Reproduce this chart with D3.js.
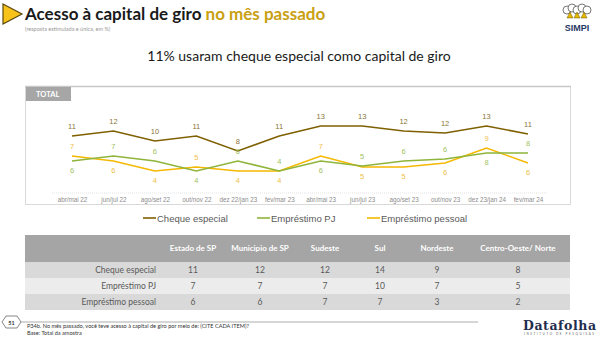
<!DOCTYPE html>
<html>
<head>
<meta charset="utf-8">
<script src="https://cdn.jsdelivr.net/npm/d3@7"></script>
<style>
  body { margin: 0; background: #fff; }
  svg { display: block; font-family: Lato, "Liberation Sans", sans-serif; }
</style>
</head>
<body>
<div id="container"></div>
<script>
// data we work with
let periods = ["abr/mai 22", "jun/jul 22", "ago/set 22", "out/nov 22", "dez 22/jan 23", "fev/mar 23",
  "abr/mai 23", "jun/jul 23", "ago/set 23", "out/nov 23", "dez 23/jan 24", "fev/mar 24"];
let cheque = [11, 12, 10, 11, 8, 11, 13, 13, 12, 11.6, 13, 11.4];
let empPJ = [6, 7, 6, 4, 6, 4, 6, 5, 6, 6.4, 7.6, 7.6];
let empPessoal = [7, 6, 4, 4.8, 4, 4, 7, 4.8, 4.8, 5.6, 8.6, 5.6];
let seriesNames = ["Cheque especial", "Empréstimo PJ", "Empréstimo pessoal"];

let regions = ["Estado de  SP", "Municipio de SP", "Sudeste", "Sul", "Nordeste", "Centro-Oeste/ Norte"];
let tabCheque = [11, 12, 12, 14, 9, 8];
let tabPJ = [7, 7, 7, 10, 7, 5];
let tabPessoal = [6, 6, 7, 7, 3, 2];

let w = 600;
let h = 338;
let colors = ["#7f6000", "#8fb43a", "#f5b800"];
let labelColors = ["#8a7535", "#a3c262", "#f0c04a"];

let viz = d3.select("#container")
  .append("svg")
    .attr("width", w)
    .attr("height", h)
;

// ---- header
viz.append("path")
  .attr("d", "M3,4 L22,14 L3,24 Z")
  .attr("fill", "#f7c21a")
  .attr("stroke", "#5a4a10")
  .attr("stroke-width", 1.2);

let title = viz.append("text")
  .attr("x", 25).attr("y", 20)
  .attr("font-size", 17).attr("font-weight", "bold");
title.append("tspan").attr("fill", "#1a1a1a").text("Acesso à capital de giro ");
title.append("tspan").attr("fill", "#c9a012").text("no mês passado");

viz.append("text")
  .attr("x", 25).attr("y", 31)
  .attr("font-size", 5.5).attr("fill", "#999")
  .text("(resposta estimulada e única, em %)");

// SIMPI logo
let logo = viz.append("g").attr("transform", "translate(577,14)");
[-10, -5, 0, 5, 10].forEach(function(dx, i){
  logo.append("circle")
    .attr("cx", dx).attr("cy", i % 2 ? -6 : -4).attr("r", 4)
    .attr("fill", "#fff").attr("stroke", "#555").attr("stroke-width", 0.8);
});
[-7, 0, 7].forEach(function(dx){
  logo.append("path")
    .attr("d", "M" + (dx - 3) + ",4 L" + dx + ",-2 L" + (dx + 3) + ",4 Z")
    .attr("fill", "#e6b800").attr("stroke", "#6b5a00").attr("stroke-width", 0.5);
});
logo.append("text")
  .attr("y", 17).attr("text-anchor", "middle")
  .attr("font-family", "Liberation Sans").attr("font-weight", "bold")
  .attr("font-size", 9).attr("fill", "#1f3864")
  .text("SIMPI");

viz.append("text")
  .attr("x", 299).attr("y", 61)
  .attr("text-anchor", "middle")
  .attr("font-size", 14).attr("fill", "#1a1a1a")
  .text("11% usaram cheque especial como capital de giro");

// ---- chart box
viz.append("rect")
  .attr("x", 25.5).attr("y", 86.5)
  .attr("width", 545).attr("height", 118)
  .attr("fill", "none").attr("stroke", "#d9d9d9");
viz.append("line")
  .attr("x1", 25).attr("x2", 571).attr("y1", 86.5).attr("y2", 86.5)
  .attr("stroke", "#c8c8c8").attr("stroke-width", 1.5);
viz.append("rect")
  .attr("x", 26).attr("y", 87)
  .attr("width", 45).attr("height", 14)
  .attr("fill", "#a6a6a6");
viz.append("text")
  .attr("x", 36).attr("y", 97)
  .attr("font-size", 7.5).attr("font-weight", "bold").attr("fill", "#fff")
  .text("TOTAL");

let x = d3.scalePoint().domain(periods).range([72, 528]);
let y = d3.scaleLinear().domain([0, 13]).range([191, 126]);

viz.append("line")
  .attr("x1", 52).attr("x2", 548).attr("y1", 193).attr("y2", 193)
  .attr("stroke", "#e3e3e3").attr("stroke-dasharray", "1,1");

let xAxis = viz.append("g")
  .attr("transform", "translate(0,193)")
  .call(d3.axisBottom(x).tickSize(0).tickPadding(5));
xAxis.select(".domain").remove();
xAxis.selectAll("text")
  .attr("font-size", 6.3)
  .attr("fill", "#8c8c8c")
  .attr("font-family", "Liberation Sans");

let allSeries = [cheque, empPJ, empPessoal];

let lineMaker = d3.line()
  .x(function(d, i){ return x(periods[i]); })
  .y(function(d){ return y(d); });

// draw in order pessoal, PJ, cheque
[2, 1, 0].forEach(function(s){
  viz.append("path")
    .datum(allSeries[s])
    .attr("d", lineMaker)
    .attr("fill", "none")
    .attr("stroke", colors[s])
    .attr("stroke-width", 1.6);
});

// labels: cheque above; of PJ/pessoal the higher one above, the other below
allSeries.forEach(function(series, s){
  viz.append("g").selectAll("text")
    .data(series)
    .enter()
    .append("text")
      .attr("x", function(d, i){ return x(periods[i]); })
      .attr("y", function(d, i){
        let above = true;
        if (s === 1) above = empPJ[i] >= empPessoal[i];
        if (s === 2) above = empPessoal[i] > empPJ[i];
        return above ? y(d) - 7 : y(d) + 12;
      })
      .attr("text-anchor", "middle")
      .attr("font-size", 7.5)
      .attr("font-family", "Liberation Sans")
      .attr("fill", labelColors[s])
      .text(function(d){ return d3.format(".0f")(d); });
});

// legend
let legendX = [143, 257, 367];
seriesNames.forEach(function(name, s){
  viz.append("line")
    .attr("x1", legendX[s]).attr("x2", legendX[s] + 13)
    .attr("y1", 218).attr("y2", 218)
    .attr("stroke", colors[s]).attr("stroke-width", 1.6);
  viz.append("text")
    .attr("x", legendX[s] + 14).attr("y", 221.5)
    .attr("font-size", 9.5).attr("fill", "#595959")
    .attr("font-family", "Liberation Sans")
    .text(name);
});

// ---- table
let colPos = [193, 260, 325, 380, 437, 518];
viz.append("rect")
  .attr("x", 25).attr("y", 235)
  .attr("width", 545).attr("height", 27)
  .attr("fill", "#a5a5a5");
viz.append("g").selectAll("text")
  .data(regions)
  .enter()
  .append("text")
    .attr("x", function(d, i){ return colPos[i]; })
    .attr("y", 251)
    .attr("text-anchor", "middle")
    .attr("font-size", 8).attr("font-weight", "bold").attr("fill", "#fff")
    .text(function(d){ return d; });

let tabRows = [tabCheque, tabPJ, tabPessoal];
let rowFill = ["#d9d9d9", "#ececec", "#d9d9d9"];
tabRows.forEach(function(row, r){
  let ry = 262 + r * 16;
  viz.append("rect")
    .attr("x", 25).attr("y", ry)
    .attr("width", 545).attr("height", 16)
    .attr("fill", rowFill[r]);
  viz.append("text")
    .attr("x", 156).attr("y", ry + 11)
    .attr("text-anchor", "end")
    .attr("font-size", 8.5).attr("fill", "#595959")
    .text(seriesNames[r]);
  viz.append("g").selectAll("text")
    .data(row)
    .enter()
    .append("text")
      .attr("x", function(d, i){ return colPos[i]; })
      .attr("y", ry + 11)
      .attr("text-anchor", "middle")
      .attr("font-size", 8.5).attr("fill", "#595959")
      .text(function(d){ return d; });
});

// ---- footer
viz.append("path")
  .attr("d", "M6,316 L17,316 L21,322 L17,328 L6,328 L2,322 Z")
  .attr("fill", "#fff").attr("stroke", "#555").attr("stroke-width", 0.7);
viz.append("text")
  .attr("x", 11.5).attr("y", 324.5)
  .attr("text-anchor", "middle")
  .attr("font-size", 5.5).attr("font-weight", "bold").attr("fill", "#333")
  .text("51");
viz.append("line")
  .attr("x1", 21).attr("x2", 478).attr("y1", 322).attr("y2", 322)
  .attr("stroke", "#777").attr("stroke-width", 0.6);
viz.append("text")
  .attr("x", 27).attr("y", 328)
  .attr("font-size", 5.6).attr("fill", "#333")
  .text("P34b. No mês passado, você teve acesso à capital de giro por meio de: (CITE CADA ITEM)?");
viz.append("text")
  .attr("x", 27).attr("y", 335)
  .attr("font-size", 5.6).attr("fill", "#333")
  .text("Base: Total da amostra");
viz.append("text")
  .attr("x", 523).attr("y", 330)
  .attr("font-family", "DejaVu Serif").attr("font-weight", "bold")
  .attr("font-size", 12.5).attr("fill", "#1f2d4e")
  .attr("textLength", 73)
  .text("Datafolha");
viz.append("text")
  .attr("x", 524).attr("y", 335)
  .attr("font-size", 3).attr("fill", "#666")
  .attr("textLength", 70)
  .text("INSTITUTO DE PESQUISAS");
</script>
</body>
</html>
